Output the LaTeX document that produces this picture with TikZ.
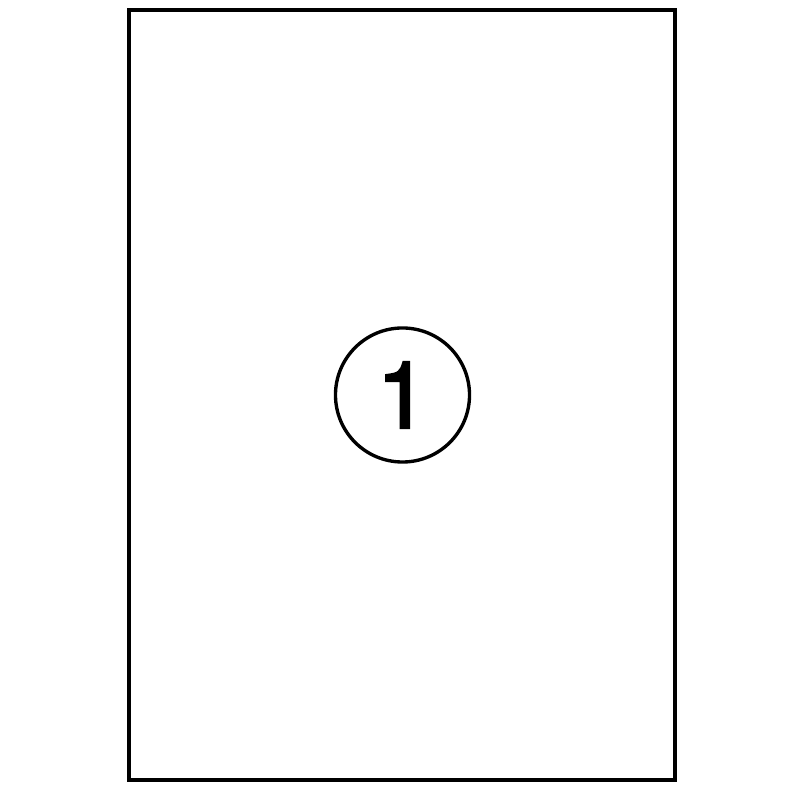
\documentclass[tikz,border=0pt]{standalone}
\usepackage{fontspec}
\newfontfamily\numfont[FakeBold=2.5]{TeX Gyre Heros}
\usetikzlibrary{positioning}

\begin{document}
\begin{tikzpicture}[x=0.025cm,y=0.025cm,
  sheet/.style={draw, line width=2.2pt},
  numcircle/.style={draw, circle, line width=2.4pt, minimum size=3.35cm, inner sep=0pt,
    font=\numfont\fontsize{66}{66}\selectfont}]
\useasboundingbox (0,0) rectangle (802,802);
\draw[sheet] (129,22) rectangle (675,792);
\node[numcircle] (num) at (402.5,407) {1};
\end{tikzpicture}
\end{document}
